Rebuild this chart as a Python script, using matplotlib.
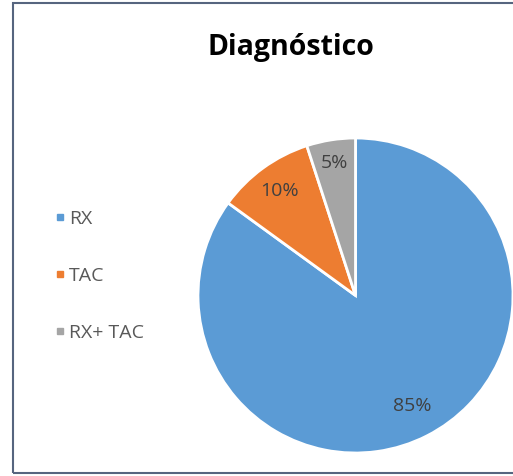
import numpy as np
import matplotlib
matplotlib.use('Agg')
import matplotlib.pyplot as plt
from matplotlib.patches import Rectangle
from matplotlib.lines import Line2D

plt.rcParams['font.family'] = ['Open Sans', 'DejaVu Sans']

# Diagnostic method shares
categories = ['RX', 'TAC', 'RX+ TAC']
shares = [85, 10, 5]
colors = ['#5b9bd5', '#ed7d31', '#a5a5a5']
label_dist = [0.79, 0.82, 0.85]

W, H = 513, 476
fig = plt.figure(figsize=(W / 100, H / 100), dpi=100)

# chart frame
fig.patches.append(Rectangle((13 / W, 3 / H), 1.05, 470 / H, transform=fig.transFigure,
                             fill=False, edgecolor='#56657f', linewidth=1.5))

cx, cy, r = 355.5, 295.5, 157.5
ax = fig.add_axes([(cx - r) / W, (H - cy - r) / H, 2 * r / W, 2 * r / H])
wedges, _ = ax.pie(shares, colors=colors, startangle=90, counterclock=False,
                   wedgeprops=dict(edgecolor='white', linewidth=2))
ax.set_xlim(-1, 1)
ax.set_ylim(-1, 1)
ax.set_aspect('equal')

# percentage labels inside each slice
for w, v, d in zip(wedges, shares, label_dist):
    ang = np.deg2rad((w.theta1 + w.theta2) / 2)
    ax.text(d * np.cos(ang), d * np.sin(ang), f'{v}%', ha='center', va='center',
            fontsize=14, color='#404040')

fig.text(291 / W, 1 - 48 / H, 'Diagnóstico', ha='center', va='center',
         fontsize=20.5, fontweight='bold', color='black')

handles = [Line2D([], [], marker='s', linestyle='none', markersize=5,
                  markerfacecolor=c, markeredgecolor=c) for c in colors]
fig.legend(handles, categories, loc='center left', bbox_to_anchor=(38 / W, 1 - 276 / H),
           frameon=False, fontsize=14, labelspacing=2.0, handlelength=0.5,
           handletextpad=0.2, labelcolor='#595959')

fig.savefig('out.png', dpi=100)
